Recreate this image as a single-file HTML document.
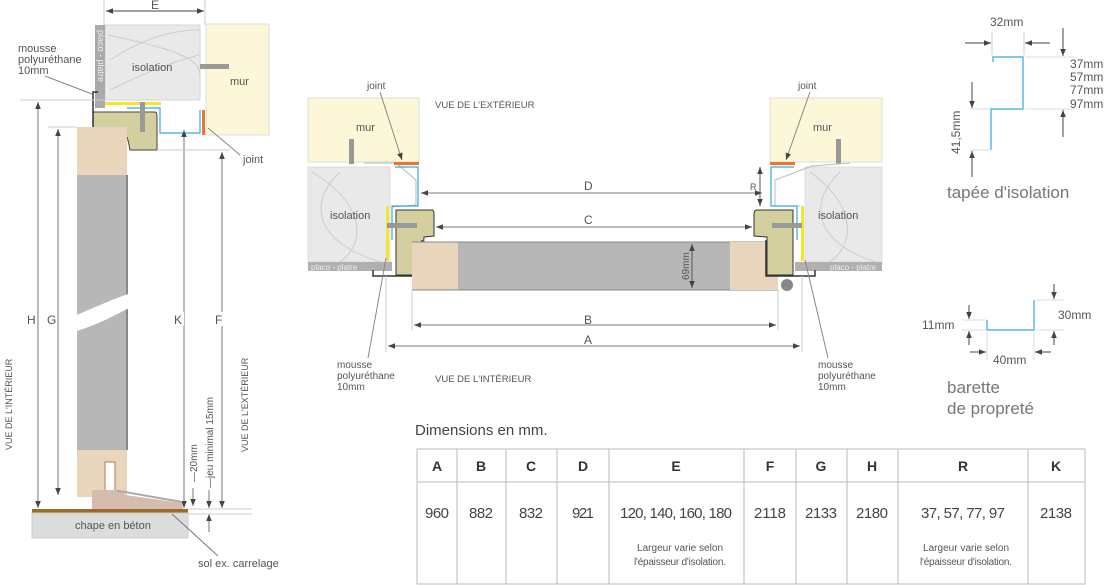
<!DOCTYPE html>
<html><head><meta charset="utf-8"><style>
html,body{margin:0;padding:0;background:#fff;}
svg{display:block;font-family:"Liberation Sans",sans-serif;}
</style></head><body>
<svg width="1108" height="585" viewBox="0 0 1108 585" xmlns="http://www.w3.org/2000/svg">
<defs>
<marker id="ar" viewBox="0 0 10 10" refX="10" refY="5" markerWidth="7" markerHeight="7" orient="auto-start-reverse"><path d="M0,1 L10,5 L0,9z" fill="#444"/></marker>
</defs>
<g fill="#555" font-size="11">
<!-- ================= LEFT SECTION ================= -->
<line x1="104" y1="0" x2="104" y2="25" stroke="#ccc"/>
<line x1="205" y1="0" x2="205" y2="25" stroke="#ccc"/>
<line x1="106" y1="11" x2="204" y2="11" stroke="#444" marker-start="url(#ar)" marker-end="url(#ar)"/>
<text x="151" y="9" font-size="12">E</text>
<rect x="105" y="25" width="95" height="75" fill="#e9e9e9" stroke="#d6d6d6"/>
<path d="M108,35 C180,50 200,60 200,75 M110,60 C140,40 170,30 199,30 M110,90 C150,70 180,60 199,55" stroke="#ccc" fill="none"/>
<text x="132" y="71">isolation</text>
<rect x="95" y="25" width="10" height="83" fill="#aaa"/>
<text transform="translate(98,30) rotate(90)" font-size="9" fill="#eee">placo - platre</text>
<rect x="206" y="24" width="63" height="111" fill="#fdf7d9" stroke="#ddd"/>
<text x="230" y="85">mur</text>
<rect x="200" y="64" width="29" height="5" fill="#999"/>
<rect x="105" y="102" width="56" height="3" fill="#f5e62a"/>
<path d="M127,108 L160,108 L160,133 L200,133 L200,110" stroke="#35a8e0" fill="none" stroke-width="1.2"/>
<rect x="202" y="110" width="3" height="25" fill="#e8762c"/>
<path d="M93,112 L155,112 Q157,112 157,116 L157,150 L130,150 L128,140 L93,140z" fill="#d4cf9e" stroke="#444" stroke-width="1"/>
<path d="M98,92 L93,92 L93,138 L128,138" stroke="#333" fill="none" stroke-width="1.5"/>
<rect x="140" y="102" width="5" height="30" fill="#999"/>
<!-- door leaf -->
<rect x="77" y="127" width="50" height="48" fill="#e9d5bb"/>
<rect x="77" y="175" width="49" height="275" fill="#b7b7b7"/>
<rect x="126" y="175" width="2" height="275" fill="#888"/>
<path d="M70,318 C100,305 110,300 145,288 L145,300 C120,312 100,325 70,333z" fill="#fff"/>
<rect x="77" y="450" width="50" height="47" fill="#e9d5bb"/>
<rect x="105" y="462" width="10" height="35" fill="#fff" stroke="#b07a5a"/>
<!-- dimension lines -->
<line x1="20" y1="100" x2="105" y2="100" stroke="#ccc"/>
<line x1="38" y1="102" x2="38" y2="508" stroke="#777" marker-start="url(#ar)" marker-end="url(#ar)"/>
<line x1="48" y1="127" x2="77" y2="127" stroke="#ccc"/>
<line x1="58" y1="129" x2="58" y2="495" stroke="#777" marker-start="url(#ar)" marker-end="url(#ar)"/>
<line x1="184" y1="130" x2="184" y2="508" stroke="#777" marker-start="url(#ar)" marker-end="url(#ar)"/>
<line x1="157" y1="150" x2="230" y2="150" stroke="#ccc"/>
<line x1="222" y1="152" x2="222" y2="508" stroke="#777" marker-start="url(#ar)" marker-end="url(#ar)"/>
<rect x="25" y="312" width="12" height="14" fill="#fff"/><text x="27" y="324" font-size="12">H</text>
<rect x="45" y="312" width="12" height="14" fill="#fff"/><text x="47" y="324" font-size="12">G</text>
<rect x="172" y="312" width="12" height="14" fill="#fff"/><text x="174" y="324" font-size="12">K</text>
<rect x="212" y="312" width="12" height="14" fill="#fff"/><text x="215" y="324" font-size="12">F</text>
<text transform="translate(12,450) rotate(-90)" font-size="9">VUE DE L'INTÉRIEUR</text>
<text transform="translate(248,452) rotate(-90)" font-size="9">VUE DE L'EXTÉRIEUR</text>
<text transform="translate(197,482) rotate(-90)" font-size="10">—20mm</text>
<text transform="translate(213,488) rotate(-90)" font-size="10">—jeu minimal  15mm</text>
<line x1="193" y1="488" x2="193" y2="506" stroke="#777" marker-end="url(#ar)"/>
<line x1="209" y1="490" x2="209" y2="508" stroke="#777" marker-end="url(#ar)"/>
<line x1="209" y1="532" x2="209" y2="514" stroke="#777" marker-end="url(#ar)"/>
<line x1="186" y1="509" x2="252" y2="509" stroke="#ccc"/>
<line x1="186" y1="514" x2="252" y2="514" stroke="#ccc"/>
<!-- threshold & chape -->
<path d="M92,490 L120,490 L125,495 L182,503 L183,509 L92,509z" fill="#d5bcae"/>
<path d="M117,491 L125,492 L182,502" stroke="#aaa" fill="none" stroke-width="2"/>
<rect x="32" y="509" width="156" height="4" fill="#9b6a2c"/>
<rect x="32" y="513" width="156" height="25" fill="#dcdcdc" stroke="#ccc"/>
<text x="75" y="529">chape en béton</text>
<line x1="172" y1="514" x2="218" y2="556" stroke="#777"/>
<text x="198" y="567">sol ex. carrelage</text>
<text x="18" y="52">mousse</text><text x="18" y="63">polyuréthane</text><text x="18" y="74">10mm</text>
<line x1="45" y1="76" x2="92" y2="94" stroke="#888"/>
<line x1="208" y1="128" x2="240" y2="155" stroke="#888"/>
<text x="243" y="163">joint</text>

<!-- ================= CENTER ================= -->
<rect x="308" y="98" width="111" height="64" fill="#fdf7d9" stroke="#ddd"/>
<text x="356" y="131">mur</text>
<rect x="349" y="139" width="5" height="25" fill="#999"/>
<rect x="308" y="167" width="82" height="95" fill="#e9e9e9" stroke="#ddd"/>
<path d="M312,172 C360,200 370,240 340,262 M340,172 C310,200 310,240 380,262" stroke="#ccc" fill="none"/>
<text x="330" y="219">isolation</text>
<rect x="308" y="262" width="84" height="9" fill="#b0b0b0"/>
<text x="311" y="270" font-size="8" fill="#eee">placo - platre</text>
<path d="M364,163 L396,163 L416,180 L416,205 L392,207" stroke="#bbb" fill="none"/>
<rect x="394" y="162" width="25" height="3" fill="#e8762c"/>
<path d="M395,167 L418,167 L418,206 L392,206 L392,240" stroke="#35a8e0" fill="none" stroke-width="1.2"/>
<rect x="386" y="206" width="3" height="55" fill="#f5e62a"/>
<path d="M396,210 L432,210 Q434,210 434,214 L434,236 L424,237 L422,275 L396,275z" fill="#d4cf9e" stroke="#333"/>
<path d="M373,270 L373,276 L422,276 L422,240" stroke="#333" fill="none" stroke-width="1.5"/>
<rect x="387" y="223" width="30" height="5" fill="#999"/>
<rect x="412" y="242" width="46" height="48" fill="#e9d5bb"/>
<rect x="458" y="242" width="272" height="48" fill="#b7b7b7"/>
<line x1="412" y1="242" x2="778" y2="242" stroke="#888"/>
<line x1="412" y1="290" x2="778" y2="290" stroke="#888"/>
<rect x="730" y="242" width="48" height="48" fill="#e9d5bb"/>
<circle cx="787" cy="285" r="6" fill="#888"/>
<line x1="692" y1="244" x2="692" y2="288" stroke="#555" marker-start="url(#ar)" marker-end="url(#ar)"/>
<text transform="translate(689,280) rotate(-90)" font-size="10">69mm</text>
<!-- right side -->
<rect x="770" y="98" width="112" height="64" fill="#fdf7d9" stroke="#ddd"/>
<text x="813" y="131">mur</text>
<rect x="836" y="139" width="5" height="25" fill="#999"/>
<rect x="805" y="167" width="77" height="95" fill="#e9e9e9" stroke="#ddd"/>
<path d="M810,172 C850,200 860,240 830,262 M840,172 C810,200 810,240 875,262" stroke="#ccc" fill="none"/>
<text x="818" y="219">isolation</text>
<rect x="795" y="262" width="87" height="9" fill="#b0b0b0"/>
<text x="830" y="270" font-size="8" fill="#eee">placo - platre</text>
<path d="M850,163 L812,166 L775,180 L775,206 L800,206" stroke="#bbb" fill="none"/>
<rect x="770" y="162" width="25" height="3" fill="#e8762c"/>
<path d="M794,167 L771,167 L771,206 L797,206 L797,240" stroke="#35a8e0" fill="none" stroke-width="1.2"/>
<rect x="801" y="206" width="3" height="55" fill="#f5e62a"/>
<path d="M757,210 L793,210 L793,275 L767,275 L767,237 L754,236 L754,214 Q754,210 757,210z" fill="#d4cf9e" stroke="#333"/>
<path d="M766,240 L766,276 L815,276 L815,270" stroke="#333" fill="none" stroke-width="1.5"/>
<rect x="772" y="223" width="30" height="5" fill="#999"/>
<!-- dims center -->
<line x1="421" y1="193" x2="762" y2="193" stroke="#777" marker-start="url(#ar)" marker-end="url(#ar)"/>
<text x="584" y="190" font-size="12">D</text>
<line x1="436" y1="227" x2="752" y2="227" stroke="#777" marker-start="url(#ar)" marker-end="url(#ar)"/>
<text x="584" y="224" font-size="12">C</text>
<line x1="760" y1="167" x2="760" y2="206" stroke="#555" marker-start="url(#ar)" marker-end="url(#ar)"/>
<text x="750" y="190" font-size="9">R</text>
<line x1="412" y1="290" x2="412" y2="330" stroke="#ccc"/>
<line x1="778" y1="290" x2="778" y2="330" stroke="#ccc"/>
<line x1="386" y1="276" x2="386" y2="352" stroke="#ccc"/>
<line x1="802" y1="276" x2="802" y2="352" stroke="#ccc"/>
<line x1="414" y1="325" x2="776" y2="325" stroke="#777" marker-start="url(#ar)" marker-end="url(#ar)"/>
<text x="584" y="324" font-size="12">B</text>
<line x1="388" y1="346" x2="800" y2="346" stroke="#777" marker-start="url(#ar)" marker-end="url(#ar)"/>
<text x="584" y="344" font-size="12">A</text>
<text x="435" y="108" font-size="9.5">VUE DE L'EXTÉRIEUR</text>
<text x="435" y="382" font-size="9.5">VUE DE L'INTÉRIEUR</text>
<text x="367" y="89" font-size="10">joint</text>
<line x1="380" y1="92" x2="402" y2="160" stroke="#888" marker-end="url(#ar)"/>
<text x="798" y="89" font-size="10">joint</text>
<line x1="810" y1="92" x2="786" y2="160" stroke="#888" marker-end="url(#ar)"/>
<text x="337" y="368" font-size="10">mousse</text><text x="337" y="379" font-size="10">polyuréthane</text><text x="337" y="390" font-size="10">10mm</text>
<line x1="368" y1="358" x2="386" y2="258" stroke="#888"/>
<text x="818" y="368" font-size="10">mousse</text><text x="818" y="379" font-size="10">polyuréthane</text><text x="818" y="390" font-size="10">10mm</text>
<line x1="828" y1="358" x2="805" y2="260" stroke="#888"/>

<!-- ================= RIGHT MINI DIAGRAMS ================= -->
<text x="990" y="26" font-size="12">32mm</text>
<line x1="992" y1="32" x2="992" y2="55" stroke="#ccc"/>
<line x1="1024" y1="32" x2="1024" y2="55" stroke="#ccc"/>
<line x1="965" y1="43" x2="991" y2="43" stroke="#444" marker-end="url(#ar)"/>
<line x1="1050" y1="43" x2="1025" y2="43" stroke="#444" marker-end="url(#ar)"/>
<path d="M993,62 L993,57 L1023,57 L1023,109 L991,109 L991,150" stroke="#35a8e0" fill="none" stroke-width="1.2"/>
<line x1="1025" y1="57" x2="1075" y2="57" stroke="#ddd"/>
<line x1="1025" y1="109" x2="1075" y2="109" stroke="#ddd"/>
<line x1="970" y1="109" x2="990" y2="109" stroke="#ddd"/>
<line x1="970" y1="150" x2="990" y2="150" stroke="#ddd"/>
<line x1="1063" y1="28" x2="1063" y2="56" stroke="#444" marker-end="url(#ar)"/>
<line x1="1063" y1="137" x2="1063" y2="110" stroke="#444" marker-end="url(#ar)"/>
<line x1="972" y1="82" x2="972" y2="108" stroke="#444" marker-end="url(#ar)"/>
<line x1="972" y1="177" x2="972" y2="151" stroke="#444" marker-end="url(#ar)"/>
<text x="1070" y="68" font-size="12">37mm</text>
<text x="1070" y="81" font-size="12">57mm</text>
<text x="1070" y="94" font-size="12">77mm</text>
<text x="1070" y="108" font-size="12">97mm</text>
<text transform="translate(960,154) rotate(-90)" font-size="12">41,5mm</text>
<text x="947" y="198" font-size="17" fill="#777">tapée d'isolation</text>

<path d="M987,320 L987,330 L1034,330 L1034,300" stroke="#35a8e0" fill="none" stroke-width="1.2"/>
<line x1="962" y1="320" x2="986" y2="320" stroke="#ddd"/>
<line x1="962" y1="330" x2="986" y2="330" stroke="#ddd"/>
<line x1="1036" y1="300" x2="1064" y2="300" stroke="#ddd"/>
<line x1="1036" y1="330" x2="1064" y2="330" stroke="#ddd"/>
<line x1="987" y1="332" x2="987" y2="360" stroke="#ddd"/>
<line x1="1034" y1="332" x2="1034" y2="360" stroke="#ddd"/>
<line x1="969" y1="305" x2="969" y2="319" stroke="#444" marker-end="url(#ar)"/>
<line x1="969" y1="345" x2="969" y2="331" stroke="#444" marker-end="url(#ar)"/>
<line x1="1054" y1="284" x2="1054" y2="299" stroke="#444" marker-end="url(#ar)"/>
<line x1="1054" y1="345" x2="1054" y2="331" stroke="#444" marker-end="url(#ar)"/>
<line x1="970" y1="352" x2="986" y2="352" stroke="#444" marker-end="url(#ar)"/>
<line x1="1051" y1="352" x2="1035" y2="352" stroke="#444" marker-end="url(#ar)"/>
<text x="922" y="329" font-size="12">11mm</text>
<text x="1058" y="319" font-size="12">30mm</text>
<text x="993" y="364" font-size="12">40mm</text>
<text x="947" y="393" font-size="17" fill="#777">barette</text>
<text x="947" y="414" font-size="17" fill="#777">de propreté</text>

<!-- ================= TABLE ================= -->
<text x="415" y="435" font-size="15" fill="#444">Dimensions en mm.</text>
<g stroke="#bbb" fill="none">
<rect x="417" y="449" width="668" height="135"/>
<line x1="417" y1="482" x2="1085" y2="482"/>
<line x1="457" y1="449" x2="457" y2="584"/>
<line x1="506" y1="449" x2="506" y2="584"/>
<line x1="557" y1="449" x2="557" y2="584"/>
<line x1="609" y1="449" x2="609" y2="584"/>
<line x1="744" y1="449" x2="744" y2="584"/>
<line x1="796" y1="449" x2="796" y2="584"/>
<line x1="847" y1="449" x2="847" y2="584"/>
<line x1="898" y1="449" x2="898" y2="584"/>
<line x1="1028" y1="449" x2="1028" y2="584"/>
</g>
<g font-size="14" font-weight="bold" fill="#333" text-anchor="middle">
<text x="437" y="471">A</text><text x="481" y="471">B</text><text x="531" y="471">C</text><text x="583" y="471">D</text>
<text x="676" y="471">E</text><text x="770" y="471">F</text><text x="821" y="471">G</text><text x="872" y="471">H</text>
<text x="963" y="471">R</text><text x="1056" y="471">K</text>
</g>
<g font-size="15" fill="#444" text-anchor="middle">
<text x="437" y="518" textLength="24">960</text><text x="481" y="518" textLength="24">882</text><text x="531" y="518" textLength="24">832</text><text x="583" y="518" textLength="22">921</text>
<text x="676" y="518" textLength="112">120, 140, 160, 180</text><text x="770" y="518" textLength="32">2118</text><text x="821" y="518" textLength="32">2133</text><text x="872" y="518" textLength="32">2180</text>
<text x="963" y="518" textLength="84">37, 57, 77, 97</text><text x="1056" y="518" textLength="32">2138</text>
</g>
<g font-size="10" fill="#555" text-anchor="middle">
<text x="680" y="551" textLength="86">Largeur varie selon</text><text x="680" y="565" textLength="92">l'épaisseur d'isolation.</text>
<text x="966" y="551" textLength="86">Largeur varie selon</text><text x="966" y="565" textLength="92">l'épaisseur d'isolation.</text>
</g>
</g>
</svg>
</body></html>
